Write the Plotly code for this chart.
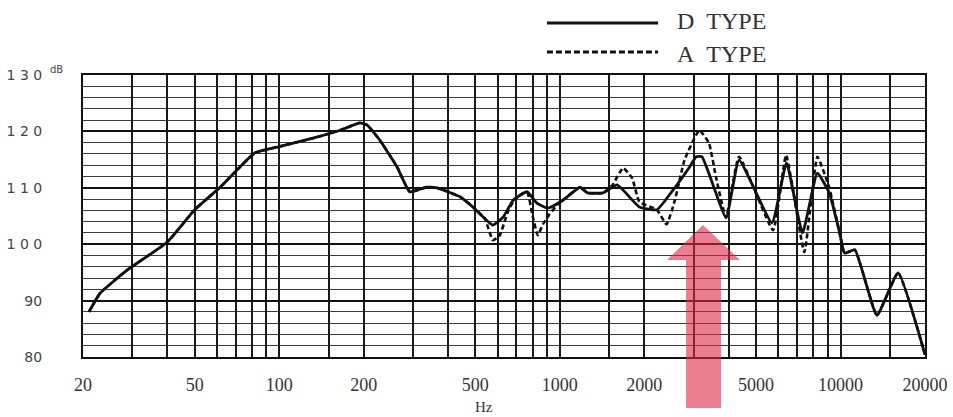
import plotly.graph_objects as go

# ---- data ----
freq_d = [21, 23, 28.7, 40, 50, 61.6, 72.5, 82, 100, 132, 165, 194, 206, 228, 263, 292,
          334, 365, 441, 490, 577, 628, 682, 764, 828, 906, 1026, 1180, 1255, 1426, 1600,
          1920, 2218, 2530, 2900, 3060, 3210, 3910, 4350, 5700, 6420, 7320, 8270, 9120,
          9930, 10340, 11250, 13480, 16040, 20000]
db_d = [88.0, 91.3, 95.4, 100.4, 106.1, 110.1, 113.7, 116.2, 117.3, 118.8, 120.2, 121.5,
        121.1, 118.5, 113.7, 109.3, 110.1, 110.0, 108.4, 106.6, 103.4, 104.8, 107.8, 109.3,
        107.3, 106.4, 107.8, 110.1, 109.1, 109.1, 110.5, 106.6, 106.1, 109.6, 113.7, 115.5,
        115.5, 104.7, 114.9, 103.8, 114.4, 102.0, 112.6, 109.1, 102.0, 98.4, 99.0, 87.4,
        94.9, 80.4]

freq_a = [21, 23, 28.7, 40, 50, 61.6, 72.5, 82, 100, 132, 165, 194, 206, 228, 263, 292,
          334, 365, 441, 490, 541, 577, 610, 650, 690, 764, 800, 834, 870, 915, 980, 1026,
          1180, 1255, 1426, 1540, 1680, 1810, 1920, 2218, 2400, 2570, 2780, 3140, 3400,
          3600, 3910, 4350, 5750, 6400, 7430, 8270, 9120, 9930, 10340, 11250, 13480,
          16040, 20000]
db_a = [88.0, 91.3, 95.4, 100.4, 106.1, 110.1, 113.7, 116.2, 117.3, 118.8, 120.2, 121.5,
        121.1, 118.5, 113.7, 109.3, 110.1, 110.0, 108.4, 106.6, 104.5, 100.7, 101.5, 105.5,
        108.0, 109.3, 105.0, 101.6, 103.5, 105.2, 107.0, 107.8, 110.1, 109.1, 109.1, 110.5,
        113.5, 111.7, 107.5, 106.1, 103.5, 107.8, 114.9, 120.2, 117.9, 111.9, 104.7, 115.5,
        102.5, 115.8, 98.6, 115.5, 110.0, 102.0, 98.4, 99.0, 87.4, 94.9, 80.4]

x_grid_vals = [20, 30, 40, 50, 60, 70, 80, 90, 100, 150, 200, 300, 400, 500, 600, 700,
               800, 900, 1000, 1500, 2000, 3000, 4000, 5000, 6000, 7000, 8000, 9000,
               10000, 15000, 20000]
x_label_vals = [20, 50, 100, 200, 500, 1000, 2000, 5000, 10000, 20000]
y_tick_vals = [80, 90, 100, 110, 120, 130]
y_tick_text = ["80", "90", "1 0 0", "1 1 0", "1 2 0", "1 3 0"]
series_names = ["D TYPE", "A TYPE"]

x_tick_text = [str(v) if v in x_label_vals else "" for v in x_grid_vals]

fig = go.Figure()
fig.add_trace(go.Scatter(x=freq_a, y=db_a, mode="lines", name=series_names[1],
                         line=dict(color="#111111", width=2.6, dash="5px,3px",
                                   shape="spline", smoothing=0.4)))
fig.add_trace(go.Scatter(x=freq_d, y=db_d, mode="lines", name=series_names[0],
                         line=dict(color="#111111", width=2.8,
                                   shape="spline", smoothing=0.4)))

fig.update_layout(
    width=953, height=417,
    margin=dict(l=83, r=28, t=75, b=60, autoexpand=False),
    paper_bgcolor="white", plot_bgcolor="white",
    showlegend=False,
)
fig.update_xaxes(
    type="log", range=[1.30103, 4.30103],
    tickmode="array", tickvals=x_grid_vals, ticktext=x_tick_text,
    showgrid=True, gridcolor="#1a1a1a", gridwidth=1.6,
    showline=True, linecolor="#111", linewidth=2, mirror=True,
    ticks="", ticklabelstandoff=10,
    tickfont=dict(family="Liberation Serif", size=18, color="#333"),
    zeroline=False,
)
fig.update_yaxes(
    range=[80, 130], tickmode="array", tickvals=y_tick_vals, ticktext=y_tick_text,
    showgrid=True, gridcolor="#111", gridwidth=2.2,
    minor=dict(tickmode="linear", tick0=80, dtick=2, showgrid=True,
               gridcolor="#3a3a3a", gridwidth=1.2, ticks=""),
    showline=True, linecolor="#111", linewidth=2, mirror=True,
    ticks="", ticklabelstandoff=36,
    tickfont=dict(family="DejaVu Sans", size=14, color="#444"),
    zeroline=False,
)

# legend drawn as line samples + text
fig.add_shape(type="line", xref="paper", yref="paper", x0=0.551, x1=0.683, y0=1.184, y1=1.184,
              line=dict(color="#111", width=3))
fig.add_shape(type="line", xref="paper", yref="paper", x0=0.551, x1=0.683, y0=1.0816, y1=1.0816,
              line=dict(color="#111", width=3, dash="6px,3px"))
fig.add_annotation(xref="paper", yref="paper", x=0.703, y=1.191, xanchor="left", yanchor="middle",
                   text="D\u2002TYPE", showarrow=False,
                   font=dict(family="Liberation Serif", size=24, color="#333"))
fig.add_annotation(xref="paper", yref="paper", x=0.703, y=1.074, xanchor="left", yanchor="middle",
                   text="A\u2002TYPE", showarrow=False,
                   font=dict(family="Liberation Serif", size=24, color="#333"))

# units
fig.add_annotation(xref="paper", yref="paper", x=-0.031, y=1.021, xanchor="center", yanchor="middle",
                   text="dB", showarrow=False,
                   font=dict(family="DejaVu Sans", size=10, color="#444"))
fig.add_annotation(xref="paper", yref="paper", x=0.476, y=-0.177, xanchor="center", yanchor="middle",
                   text="Hz", showarrow=False,
                   font=dict(family="Liberation Serif", size=15, color="#333"))

# red highlight arrow
fig.add_shape(type="path", xref="paper", yref="paper", layer="above",
              path="M 0.7363 0.468 L 0.6936 0.344 L 0.7162 0.344 L 0.7162 -0.181 "
                   "L 0.7577 -0.181 L 0.7577 0.344 L 0.7803 0.344 Z",
              fillcolor="rgba(220,40,70,0.6)", line=dict(width=0))

fig.write_html("out.html", config={"displayModeBar": False},
               post_script="document.body.style.margin='0';document.body.style.overflow='hidden';")
